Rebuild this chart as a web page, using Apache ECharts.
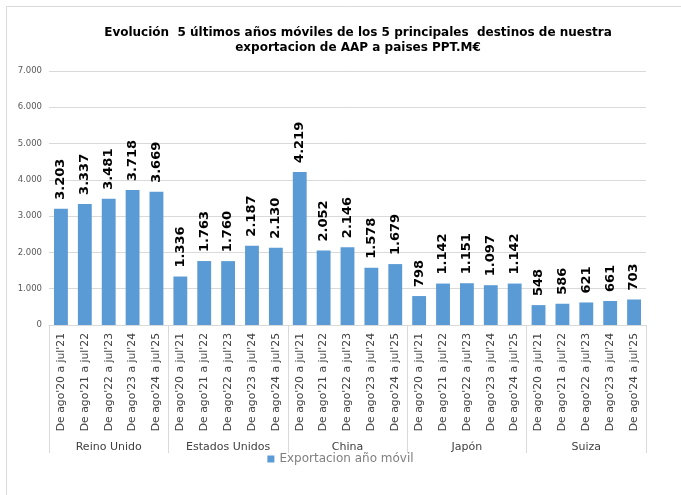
<!DOCTYPE html>
<html>
<head>
<meta charset="utf-8">
<script src="https://cdn.jsdelivr.net/npm/echarts@6/dist/echarts.min.js"></script>
<style>
  html, body { margin: 0; padding: 0; background: #fff; }
  #chart { width: 681px; height: 495px; }
</style>
</head>
<body>
<div id="chart"></div>
<script>
// datos
var groups = ['Reino Unido', 'Estados Unidos', 'China', 'Japón', 'Suiza'];
var periods = ["De ago'20 a jul'21", "De ago'21 a jul'22", "De ago'22 a jul'23", "De ago'23 a jul'24", "De ago'24 a jul'25"];
var reinoUnido = [3203, 3337, 3481, 3718, 3669];
var estadosUnidos = [1336, 1763, 1760, 2187, 2130];
var china = [4219, 2052, 2146, 1578, 1679];
var japon = [798, 1142, 1151, 1097, 1142];
var suiza = [548, 586, 621, 661, 703];
var yTicks = [0, 1000, 2000, 3000, 4000, 5000, 6000, 7000];

var barColor = '#5b9bd5';
var gridColor = '#d9d9d9';
var labelColor = '#595959';

var categories = [];
groups.forEach(function () {
  periods.forEach(function (p) { categories.push(p); });
});
var values = [].concat(reinoUnido, estadosUnidos, china, japon, suiza);

// separador de miles con punto
function fmt(v) {
  return String(v).replace(/\B(?=(\d{3})+(?!\d))/g, '.');
}

var myChart = echarts.init(document.getElementById('chart'));
myChart.setOption({
  animation: false,
  title: {
    text: 'Evolución  5 últimos años móviles de los 5 principales  destinos de nuestra\nexportacion de AAP a paises PPT.M€',
    left: 358,
    textAlign: 'center',
    top: 25,
    padding: 0,
    textStyle: {
      fontFamily: 'DejaVu Sans',
      fontWeight: 'bold',
      fontSize: 12,
      lineHeight: 15,
      color: '#000'
    }
  },
  legend: {
    bottom: 25,
    left: 'center',
    itemWidth: 7,
    itemHeight: 7,
    itemGap: 5,
    icon: 'rect',
    textStyle: { fontFamily: 'DejaVu Sans', fontSize: 12, color: '#7f7f7f' },
    data: ['Exportacion año móvil']
  },
  graphic: [{
    type: 'rect',
    shape: { x: 6.5, y: 6.5, width: 720, height: 520 },
    style: { fill: 'none', stroke: gridColor, lineWidth: 1 },
    silent: true
  }],
  grid: { left: 49, right: 35, top: 71, bottom: 170 },
  xAxis: [{
    type: 'category',
    data: categories,
    axisTick: { show: false },
    axisLine: { lineStyle: { color: gridColor } },
    axisLabel: {
      interval: 0,
      rotate: 90,
      margin: 8,
      fontFamily: 'DejaVu Sans',
      fontSize: 10.8,
      color: '#404040'
    }
  }, {
    type: 'category',
    position: 'bottom',
    data: groups,
    axisLine: { lineStyle: { color: gridColor } },
    axisTick: { show: true, length: 128, lineStyle: { color: gridColor } },
    axisLabel: {
      interval: 0,
      margin: 117,
      fontFamily: 'DejaVu Sans',
      fontSize: 11,
      color: '#404040'
    }
  }],
  yAxis: {
    type: 'value',
    min: 0,
    max: 7000,
    interval: 1000,
    axisLine: { show: false },
    axisTick: { show: false },
    splitLine: { lineStyle: { color: gridColor } },
    axisLabel: {
      margin: 7,
      fontFamily: 'DejaVu Sans',
      fontSize: 8.5,
      color: labelColor,
      formatter: function (v) { return fmt(v); }
    }
  },
  series: [{
    name: 'Exportacion año móvil',
    type: 'bar',
    xAxisIndex: 0,
    data: values,
    barCategoryGap: '42%',
    itemStyle: { color: barColor },
    label: {
      show: true,
      position: 'top',
      rotate: 90,
      align: 'left',
      verticalAlign: 'middle',
      distance: 9,
      fontFamily: 'DejaVu Sans',
      fontWeight: 'bold',
      fontSize: 13,
      color: '#000',
      formatter: function (p) { return fmt(p.value); }
    }
  }]
});
</script>
</body>
</html>
